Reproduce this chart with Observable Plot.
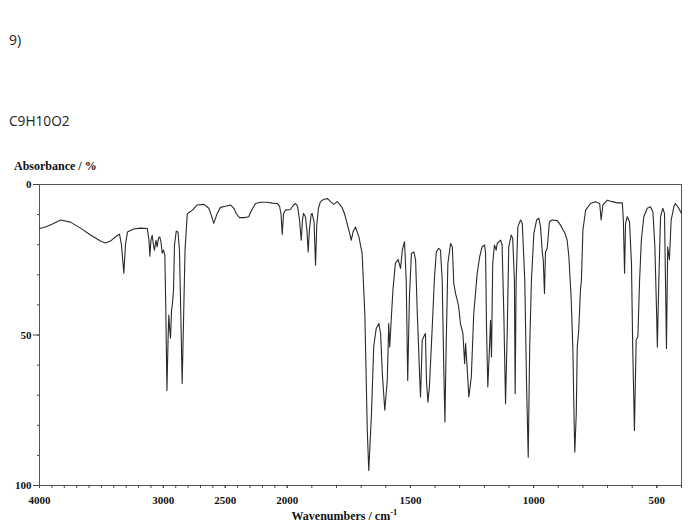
<!DOCTYPE html>
<html>
<head>
<meta charset="utf-8">
<script src="https://cdn.jsdelivr.net/npm/d3@7"></script>
<script src="https://cdn.jsdelivr.net/npm/@observablehq/plot@0.6"></script>
<style>
  body { margin: 0; background: #fff; }
  #chart { width: 700px; height: 527px; }
</style>
</head>
<body>
<div id="chart"></div>
<script>
// IR spectrum
const wavenumbers = [
  4000, 3952, 3895, 3830, 3750, 3669, 3588, 3508, 3467, 3427, 3378, 3354, 3338, 3319, 3306, 3290,
  3241, 3185, 3130, 3116, 3109, 3100, 3090, 3080, 3072, 3059, 3050, 3039, 3029, 3019, 3009, 2999,
  2988, 2980, 2971, 2962, 2956, 2948, 2942, 2934, 2926, 2918, 2910, 2896, 2882, 2870, 2858, 2848,
  2837, 2825, 2807, 2789, 2765, 2727, 2673, 2633, 2614, 2593, 2565, 2539, 2498, 2458, 2431, 2409,
  2385, 2345, 2310, 2296, 2256, 2216, 2162, 2119, 2081, 2062, 2050, 2040, 2030, 2014,
  1987, 1974, 1966, 1958, 1950, 1943, 1938, 1934, 1926, 1920, 1915, 1910, 1903, 1899, 1891, 1885,
  1880, 1873, 1865, 1851, 1836, 1824, 1811, 1797, 1788, 1777, 1767, 1757, 1747, 1740, 1733, 1723,
  1709, 1696, 1685, 1675, 1669, 1658, 1649, 1639, 1628, 1621, 1614, 1604, 1594, 1588, 1584, 1578,
  1571, 1561, 1550, 1540, 1533, 1524, 1517, 1511, 1504, 1496, 1486, 1479, 1472, 1463, 1459, 1452,
  1446, 1439, 1435, 1429, 1423, 1412, 1403, 1395, 1385, 1378, 1371, 1365, 1360, 1355, 1348, 1337,
  1330, 1324, 1317, 1310, 1304, 1297, 1287, 1280, 1276, 1270, 1263, 1253, 1243, 1229, 1219, 1209,
  1199, 1195, 1191, 1186, 1179, 1175, 1171, 1166, 1159, 1152, 1148, 1134, 1128, 1121, 1114, 1107,
  1101, 1091, 1085, 1078, 1075, 1071, 1064, 1053, 1046, 1036, 1029, 1022, 1016, 1009, 999, 988,
  979, 972, 965, 961, 956, 952, 945, 936, 925, 904, 891, 873, 864, 857, 848, 841,
  835, 833, 827, 823, 817, 810, 806, 800, 789, 769, 749, 732, 726, 719, 701, 681,
  661, 640, 636, 631, 627, 620, 611, 603, 598, 591, 584, 577, 570, 563, 553, 539,
  526, 516, 508, 501, 498, 492, 485, 476, 469, 465, 461, 456, 449, 442, 431, 425,
  411, 400
];
const absorbance = [
  14.6, 14.1, 13.1, 11.8, 12.5, 14.5, 16.8, 18.8, 19.4, 18.8, 17.1, 16.5, 20.1, 29.5, 20.1, 15.8,
  14.8, 14.5, 14.6, 18.5, 23.8, 18.5, 16.9, 20.1, 21.8, 18.5, 20.7, 17.8, 17.4, 19.1, 22.8, 21.8,
  23.5, 41.8, 68.4, 51.7, 43.4, 48.4, 51.1, 41.8, 39.4, 35.1, 20.1, 15.5, 15.8, 21.8, 45.1, 66.1,
  45.1, 21.8, 9.8, 9.2, 8.5, 6.8, 6.6, 7.9, 10.1, 12.9, 9.6, 7.6, 7.2, 6.8, 7.9, 9.8,
  11.0, 11.0, 10.7, 9.2, 6.3, 5.9, 5.9, 6.2, 6.3, 7.2, 9.8, 16.6, 9.8, 8.5,
  8.3, 6.8, 6.3, 7.2, 11.8, 18.5, 11.8, 9.6, 10.7, 15.1, 22.4, 15.1, 10.1, 9.6, 12.5, 26.8,
  13.5, 7.8, 5.7, 4.9, 4.7, 5.7, 6.6, 5.7, 6.5, 7.7, 9.8, 12.9, 16.1, 18.5, 15.8, 14.1,
  17.4, 22.9, 42.9, 81.7, 95.0, 76.1, 54.0, 47.9, 46.2, 49.5, 62.8, 75.0, 65.1, 46.2, 54.0, 45.1,
  35.1, 26.2, 24.9, 27.9, 21.8, 19.0, 31.8, 65.1, 37.3, 22.9, 22.4, 25.1, 42.9, 62.8, 70.6, 51.7,
  50.6, 49.5, 65.1, 72.3, 67.3, 48.4, 31.8, 22.4, 21.2, 21.8, 31.8, 59.5, 78.9, 54.0, 26.2, 19.6,
  20.7, 32.9, 36.2, 38.4, 40.7, 46.2, 49.5, 59.5, 52.8, 60.6, 70.6, 64.0, 42.9, 29.5, 24.0, 20.7,
  20.1, 22.9, 48.4, 67.3, 54.0, 45.1, 57.3, 26.2, 20.1, 21.8, 19.6, 18.5, 20.1, 42.9, 72.8, 48.4,
  20.7, 16.8, 17.9, 31.8, 69.5, 31.8, 14.0, 11.8, 12.9, 31.8, 65.1, 90.6, 54.0, 31.8, 16.2, 11.8,
  11.2, 14.0, 22.4, 25.1, 36.2, 22.4, 21.2, 12.4, 11.8, 12.0, 13.5, 16.2, 18.5, 24.0, 37.3, 54.0,
  81.7, 88.9, 76.1, 54.0, 48.4, 35.1, 31.8, 15.1, 8.5, 6.3, 5.7, 6.3, 11.8, 6.8, 5.2, 5.7,
  6.1, 6.1, 11.8, 29.5, 12.9, 10.7, 12.4, 26.2, 54.0, 81.7, 51.7, 50.6, 31.8, 18.5, 10.7, 7.9,
  7.4, 9.1, 20.7, 42.9, 54.0, 31.8, 10.7, 7.9, 9.6, 31.8, 54.5, 20.7, 25.1, 11.8, 7.4, 6.3,
  7.9, 9.6
];

// Axis tick values
const xMajorTicks = [4000, 3000, 2500, 2000, 1500, 1000, 500];
const xMinorTicks = d3.range(400, 4001, 100);
const xBreakpoints = [4000, 2000, 400];
const yMajorTicks = [0, 50, 100];
const yMinorTicks = d3.range(0, 101, 10);

const data = wavenumbers.map((w, i) => ({wn: w, a: absorbance[i]}));

const W = 700, H = 527;
const mL = 39, mR = 19, mT = 184, mB = 42;
// piecewise x range: 4000-2000 compressed (half scale), 2000-400 expanded
const x0 = mL, x2 = W - mR;
const x1 = x0 + (x2 - x0) * 247.7 / 642;

const serif = "'Liberation Serif', 'Times New Roman', serif";

const chart = Plot.plot({
  width: W,
  height: H,
  marginLeft: mL,
  marginRight: mR,
  marginTop: mT,
  marginBottom: mB,
  style: {fontFamily: serif, fontWeight: "bold", fontSize: "11px", color: "#111", background: "#fff"},
  x: {type: "linear", domain: xBreakpoints, range: [x0, x1, x2], label: null},
  y: {domain: [0, 100], reverse: true, label: null},
  marks: [
    Plot.frame({stroke: "#555", strokeWidth: 1}),
    Plot.axisX({ticks: xMinorTicks, tickSize: 3, tickFormat: () => "", stroke: "#444"}),
    Plot.axisX({ticks: xMajorTicks, tickSize: 3, tickPadding: 7.5, tickFormat: d3.format("d"), stroke: "#444", fill: "#111"}),
    Plot.axisY({ticks: yMinorTicks, tickSize: 2, tickFormat: () => "", stroke: "#444"}),
    Plot.axisY({ticks: yMajorTicks, tickSize: 6, tickPadding: 2, tickFormat: d3.format("d"), stroke: "#444", fill: "#111"}),
    Plot.line(data, {x: "wn", y: "a", stroke: "#2a2a2a", strokeWidth: 1.1, curve: "linear"})
  ]
});

document.getElementById("chart").appendChild(chart);

const svg = d3.select(chart);
const addText = (x, y, family, size, weight, fill, str) =>
  svg.append("text")
    .attr("x", x).attr("y", y)
    .attr("text-anchor", "start")
    .attr("font-family", family).attr("font-size", size).attr("font-weight", weight)
    .attr("fill", fill).text(str);

addText(9, 44.5, "'Open Sans', sans-serif", 14, "normal", "#222", "9)");
addText(9, 126, "'Open Sans', sans-serif", 13.7, "normal", "#222", "C9H10O2");
addText(14, 169.5, serif, 12, "bold", "#111", "Absorbance / %");
const xt = addText(291.5, 520, serif, 12, "bold", "#111", null);
xt.append("tspan").text("Wavenumbers / cm");
xt.append("tspan").attr("dy", -5).attr("font-size", 8.5).text("-1");
</script>
</body>
</html>
